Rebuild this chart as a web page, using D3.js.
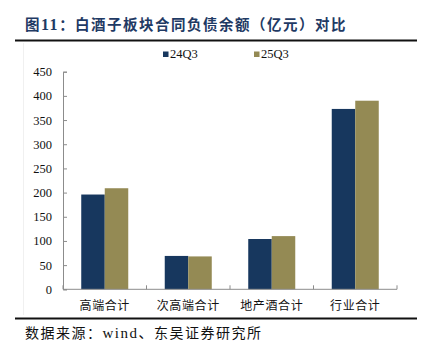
<!DOCTYPE html>
<html><head><meta charset="utf-8">
<script src="https://cdn.jsdelivr.net/npm/d3@7"></script>
<style>
html,body{margin:0;padding:0;background:#fff;}
svg{display:block;}
</style></head>
<body>
<script>
const categories = ["高端合计","次高端合计","地产酒合计","行业合计"];
const seriesNames = ["24Q3","25Q3"];
const values24Q3 = [196, 69, 104, 373];
const values25Q3 = [209, 68, 110, 390];
const yTicks = [0,50,100,150,200,250,300,350,400,450];
const titleParts = [["图",false],["11",true],["：白酒子板块合同负债余额（亿元）对比",false]];
const sourceParts = [["数据来源：",false],["wind",true],["、东吴证券研究所",false]];
const colors = ["#17375e","#948a54"];

const W = 425, H = 355;
const svg = d3.select("body").append("svg").attr("width",W).attr("height",H);

// title
const tt = svg.append("text").attr("x",25).attr("y",30)
  .attr("font-weight","bold").attr("font-size",14.5).attr("letter-spacing",1.5).attr("fill","#1f3a64");
titleParts.forEach(([t,latin])=>{
  tt.append("tspan").attr("font-family",latin?"'Liberation Serif'":"'Noto Sans CJK SC'")
    .attr("font-size",latin?16:14.5).text(t);
});
svg.append("line").attr("x1",15).attr("x2",417).attr("y1",40.5).attr("y2",40.5)
  .attr("stroke","#111").attr("stroke-width",2);
// faint plot frame
svg.append("line").attr("x1",23.5).attr("x2",23.5).attr("y1",43).attr("y2",315)
  .attr("stroke","#f0f0f0").attr("stroke-width",1);

const x = d3.scaleBand().domain(categories).range([63,397]).paddingInner(0.437).paddingOuter(0.2185);
const xs = d3.scaleBand().domain(seriesNames).range([0,x.bandwidth()]);
const y = d3.scaleLinear().domain([0,450]).range([289.3,71.7]);

const data = categories.map((c,i)=>({c, v:[values24Q3[i],values25Q3[i]]}));
const g = svg.append("g");
g.selectAll("g.cat").data(data).join("g").attr("transform",d=>`translate(${x(d.c)},0)`)
  .selectAll("rect").data(d=>d.v.map((v,j)=>({v,s:seriesNames[j],j})))
  .join("rect")
  .attr("x",d=>xs(d.s)).attr("width",xs.bandwidth())
  .attr("y",d=>y(d.v)).attr("height",d=>y(0)-y(d.v))
  .attr("fill",d=>colors[d.j]);

// y axis
const yAxis = d3.axisLeft(y).tickValues(yTicks).tickSize(-4).tickPadding(11);
const ya = svg.append("g").attr("transform","translate(63,0)").call(yAxis);
ya.select(".domain").attr("stroke","#8c8c8c");
ya.selectAll(".tick line").attr("stroke","#8c8c8c");
ya.selectAll(".tick text").attr("font-family","'Liberation Serif'").attr("font-size",12.5).attr("fill","#111");

// x axis
const xa = svg.append("g").attr("transform",`translate(0,${y(0)})`);
xa.append("line").attr("x1",63).attr("x2",397).attr("y1",0).attr("y2",0).attr("stroke","#8c8c8c");
const bounds = categories.map(c=>x(c)-x.step()*x.paddingInner()/2).concat([397]);
xa.selectAll("line.t").data(bounds).join("line").attr("class","t")
  .attr("x1",d=>d).attr("x2",d=>d).attr("y1",0).attr("y2",-4).attr("stroke","#8c8c8c");
xa.selectAll("text").data(categories).join("text")
  .attr("x",d=>x(d)+x.bandwidth()/2).attr("y",21)
  .attr("text-anchor","middle").attr("font-family","'Noto Sans CJK SC'")
  .attr("font-size",12).attr("letter-spacing",0.6).attr("fill","#111").text(d=>d);

// legend
const leg = svg.append("g");
const legX = [163,254];
seriesNames.forEach((s,i)=>{
  leg.append("rect").attr("x",legX[i]).attr("y",51.5).attr("width",5.5).attr("height",5.5).attr("fill",colors[i]);
  leg.append("text").attr("x",legX[i]+7).attr("y",57.5).attr("font-family","'Liberation Serif'")
    .attr("font-size",12.5).attr("fill","#111").text(s);
});

// bottom rule & source
svg.append("line").attr("x1",15).attr("x2",417).attr("y1",318.5).attr("y2",318.5)
  .attr("stroke","#111").attr("stroke-width",2);
const st = svg.append("text").attr("x",25).attr("y",338)
  .attr("font-size",14).attr("letter-spacing",1.5).attr("fill","#111");
sourceParts.forEach(([t,latin])=>{
  st.append("tspan").attr("font-family",latin?"'Liberation Serif'":"'Noto Sans CJK SC'")
    .attr("font-size",latin?15:14).text(t);
});
</script>
</body></html>
